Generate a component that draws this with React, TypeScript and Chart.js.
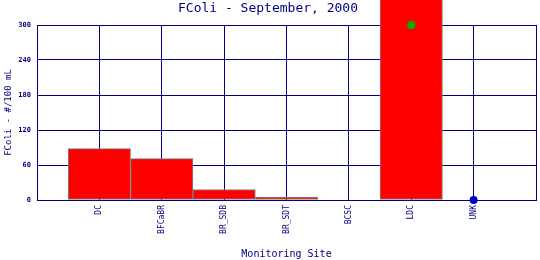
import { useEffect, useRef } from "react";
import { Chart, registerables } from "chart.js";

Chart.register(...registerables);

const sites = ["DC", "BFCaBR", "BR_SDB", "BR_SDT", "BCSC", "LDC", "UNK"];
const fcoli: (number | null)[] = [88, 71, 18, 5, null, 500, null];
const greenMarks: (number | null)[] = [null, null, null, null, null, 300, null];
const blueMarks: (number | null)[] = [null, null, null, null, null, null, 0];
const yMin = 0;
const yMax = 300;
const yStep = 60;

const NAVY = "#000080";
const MONO = "'DejaVu Sans Mono', 'Liberation Mono', monospace";

const toPoints = (vals: (number | null)[]) =>
  vals
    .map((v, i) => ({ x: i + 1, y: v }))
    .filter((p) => p.y !== null) as { x: number; y: number }[];

export default function App() {
  const ref = useRef<HTMLCanvasElement | null>(null);

  useEffect(() => {
    document.body.style.margin = "0";
    const canvas = ref.current;
    if (!canvas) return;
    const chart = new Chart(canvas, {
      type: "bar",
      data: {
        datasets: [
          {
            type: "line",
            label: "Green",
            data: toPoints(greenMarks),
            showLine: false,
            pointRadius: 4,
            pointBorderWidth: 0,
            pointBackgroundColor: "#00b400",
            borderColor: "#00b400",
            clip: false,
            order: 0,
          } as any,
          {
            type: "line",
            label: "Blue",
            data: toPoints(blueMarks),
            showLine: false,
            pointRadius: 4,
            pointBorderWidth: 0,
            pointBackgroundColor: "#0000cc",
            borderColor: "#0000cc",
            clip: false,
            order: 0,
          } as any,
          {
            type: "bar",
            label: "FColi",
            data: toPoints(fcoli),
            backgroundColor: "#ff0000",
            borderColor: "#808080",
            borderWidth: 1,
            borderSkipped: false,
            barPercentage: 1,
            categoryPercentage: 1,
            clip: false,
            order: 1,
          } as any,
        ],
      },
      options: {
        animation: false,
        responsive: false,
        layout: { padding: { left: 0, right: 4, top: 0, bottom: 0 } },
        plugins: {
          legend: { display: false },
          tooltip: { enabled: false },
          title: {
            display: true,
            text: "FColi - September, 2000",
            color: NAVY,
            font: { family: MONO, size: 13, weight: "normal" },
            padding: { top: 1, bottom: 8.4 },
          },
        },
        scales: {
          x: {
            type: "linear",
            min: 0,
            max: sites.length + 1,
            offset: false,
            afterBuildTicks: (s: any) => {
              const t = [];
              for (let v = 0; v <= sites.length + 1; v++) t.push({ value: v });
              s.ticks = t;
            },
            afterFit: (s: any) => {
              s.height = 60;
              s.paddingLeft = 0;
              s.paddingRight = 0;
            },
            grid: {
              color: NAVY,
              lineWidth: 1,
              drawTicks: false,
              offset: false,
            },
            border: { display: true, color: NAVY, width: 1 },
            ticks: {
              autoSkip: false,
              minRotation: 90,
              maxRotation: 90,
              padding: 5,
              color: NAVY,
              font: { family: MONO, size: 8 },
              callback: (v: any) => sites[Number(v) - 1] ?? "",
            },
            title: {
              display: true,
              text: "Monitoring Site",
              color: NAVY,
              font: { family: MONO, size: 10 },
              padding: { top: 0, bottom: 0 },
            },
          },
          y: {
            type: "linear",
            min: yMin,
            max: yMax,
            afterFit: (s: any) => {
              s.width = 37;
              s.paddingTop = 0;
              s.paddingBottom = 0;
            },
            grid: { color: NAVY, lineWidth: 1, drawTicks: false },
            border: { display: true, color: NAVY, width: 1 },
            ticks: {
              stepSize: yStep,
              padding: 6,
              color: NAVY,
              font: { family: MONO, size: 7, weight: "bold" },
            },
            title: {
              display: true,
              text: "FColi - #/100 mL",
              color: NAVY,
              font: { family: MONO, size: 9 },
              padding: { top: 3, bottom: 0 },
            },
          },
        },
      } as any,
    });
    return () => chart.destroy();
  }, []);

  return (
    <div style={{ position: "absolute", left: 0, top: 0, width: 540, height: 260 }}>
      <canvas ref={ref} width={540} height={260} />
    </div>
  );
}
